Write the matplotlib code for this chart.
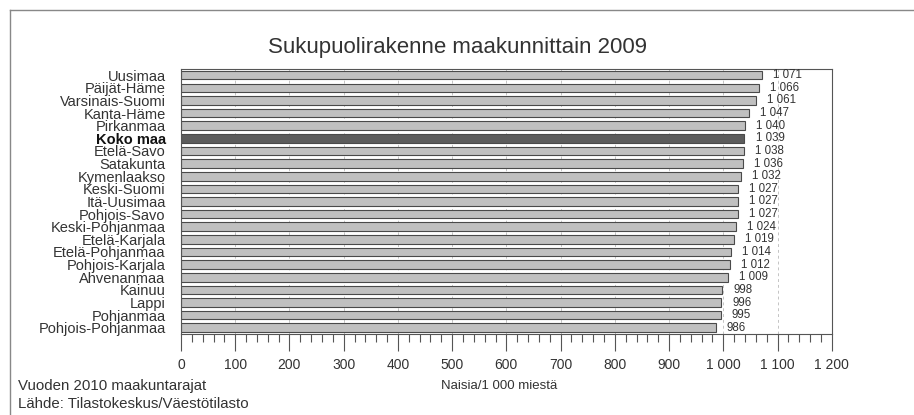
import matplotlib
matplotlib.use('Agg')
import matplotlib.pyplot as plt
from matplotlib.ticker import MultipleLocator, FuncFormatter

plt.rcParams['font.family'] = ['Liberation Sans', 'DejaVu Sans']

regions = ['Uusimaa', 'Päijät-Häme', 'Varsinais-Suomi', 'Kanta-Häme', 'Pirkanmaa',
           'Koko maa', 'Etelä-Savo', 'Satakunta', 'Kymenlaakso', 'Keski-Suomi',
           'Itä-Uusimaa', 'Pohjois-Savo', 'Keski-Pohjanmaa', 'Etelä-Karjala',
           'Etelä-Pohjanmaa', 'Pohjois-Karjala', 'Ahvenanmaa', 'Kainuu', 'Lappi',
           'Pohjanmaa', 'Pohjois-Pohjanmaa']
women_per_1000 = [1071, 1066, 1061, 1047, 1040, 1039, 1038, 1036, 1032, 1027,
                  1027, 1027, 1024, 1019, 1014, 1012, 1009, 998, 996, 995, 986]
highlight = 'Koko maa'

def fi_num(v, pos=None):
    return f'{int(v):,}'.replace(',', ' ')

fig = plt.figure(figsize=(9.14, 4.15), dpi=100)
ax = fig.add_axes([0.198, 0.195, 0.712, 0.639])

ypos = list(range(len(regions)))
colors = ['#5c5c5c' if r == highlight else '#c0c0c0' for r in regions]
bars = ax.barh(ypos, women_per_1000, height=0.68, color=colors,
               edgecolor='#4a4a4a', linewidth=0.8, zorder=2)

for b, v in zip(bars, women_per_1000):
    ax.annotate(fi_num(v), (b.get_width(), b.get_y() + b.get_height() / 2),
                xytext=(8, 0), textcoords='offset points', va='center',
                ha='left', fontsize=8.3, color='#333333')

ax.set_xlim(0, 1200)
ax.set_ylim(len(regions) - 0.5, -0.5)
ax.set_yticks(ypos)
ax.set_yticklabels(regions, fontsize=10.5, color='#333333')
for lbl in ax.get_yticklabels():
    if lbl.get_text() == highlight:
        lbl.set_fontweight('bold')
        lbl.set_color('#111111')
ax.tick_params(axis='y', length=0, pad=11)

ax.xaxis.set_major_locator(MultipleLocator(100))
ax.xaxis.set_minor_locator(MultipleLocator(20))
ax.xaxis.set_major_formatter(FuncFormatter(fi_num))
ax.tick_params(axis='x', which='major', length=12, width=0.8, color='#555555',
               labelsize=10, labelcolor='#333333', pad=5)
ax.tick_params(axis='x', which='minor', length=6, width=0.8, color='#555555')

ax.grid(axis='x', which='major', color='#c4c4c4', linestyle=(0, (3, 3)),
        linewidth=0.7, zorder=3)
for s in ax.spines.values():
    s.set_color('#555555')
    s.set_linewidth(0.8)

fig.text(0.5, 0.885, 'Sukupuolirakenne maakunnittain 2009', ha='center',
         va='center', fontsize=16, color='#333333')
fig.text(0.546, 0.07, 'Naisia/1 000 miestä', ha='center', va='center',
         fontsize=9.5, color='#333333')
fig.text(0.02, 0.07, 'Vuoden 2010 maakuntarajat', ha='left', va='center',
         fontsize=10.8, color='#333333')
fig.text(0.02, 0.026, 'Lähde: Tilastokeskus/Väestötilasto', ha='left',
         va='center', fontsize=10.8, color='#333333')

# outer frame lines (top and left)
fig.add_artist(plt.Line2D([0.011, 0.011], [0.0, 0.976], color='#888888', lw=1.0))
fig.add_artist(plt.Line2D([0.011, 1.0], [0.976, 0.976], color='#888888', lw=1.0))

fig.savefig('out.png', dpi=100)
